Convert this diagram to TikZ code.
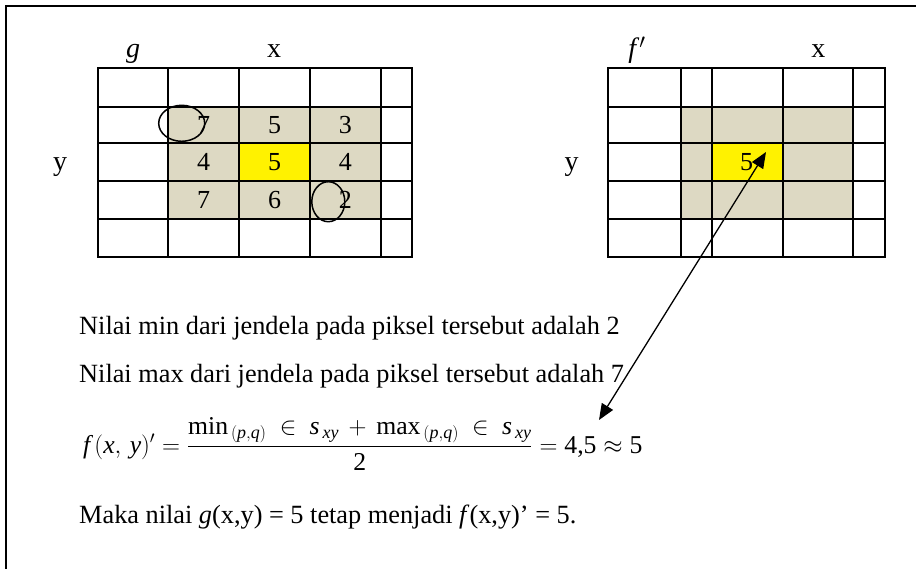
\documentclass[tikz,border=0pt]{standalone}
\usepackage{amsmath}
\usepackage{fontspec}
\setmainfont{Liberation Serif}
\usetikzlibrary{arrows.meta,shapes.geometric}
\definecolor{tanbg}{RGB}{221,217,195}
\begin{document}
\begin{tikzpicture}[x=1pt,y=-1pt,
  gridline/.style={line width=1.8pt, line cap=rect},
  num/.style={font=\fontsize{26}{30}\selectfont, inner sep=0pt},
  lab/.style={font=\fontsize{28}{32}\selectfont, inner sep=0pt, anchor=base},
  txt/.style={font=\fontsize{26.3}{30}\selectfont, inner sep=0pt, anchor=base west},
  ring/.style={draw, ellipse, line width=1.5pt, inner sep=0pt},
  dblarrow/.style={line width=1.3pt, {Triangle[length=16pt,width=13pt]}-{Triangle[length=16pt,width=13pt]}}]
\useasboundingbox (0,0) rectangle (916,569);
% frame
\draw[line width=2pt] (6,569) -- (6,6) -- (916,6);
% left grid g
\fill[tanbg] (168.3,106.7) rectangle (380.7,219);
\fill[yellow] (239,143.3) rectangle (310,181);
\foreach \x in {97.7,168.3,239,310,380.7,411.7} \draw[gridline] (\x,68.3) -- (\x,256.7);
\foreach \y in {68.3,106.7,143.3,181,219,256.7} \draw[gridline] (97.7,\y) -- (411.7,\y);
% right grid f'
\fill[tanbg] (681,106.7) rectangle (853.3,219);
\fill[yellow] (712.3,143.3) rectangle (783.3,181);
\foreach \x in {607.7,681,712.3,783.3,853.3,885} \draw[gridline] (\x,68.3) -- (\x,256.7);
\foreach \y in {68.3,106.7,143.3,181,219,256.7} \draw[gridline] (607.7,\y) -- (885,\y);
% numbers
\node[num] (a11) at (203.7,125) {7};
\node[num] (a12) at (274.5,125) {5};
\node[num] (a13) at (345.3,125) {3};
\node[num] (a21) at (203.7,162.2) {4};
\node[num] (a22) at (274.5,162.2) {5};
\node[num] (a23) at (345.3,162.2) {4};
\node[num] (a31) at (203.7,200) {7};
\node[num] (a32) at (274.5,200) {6};
\node[num] (a33) at (345.3,200) {2};
\node[num] (b22) at (746.5,162.2) {5};
% labels
\node[lab] (lg) at (133,58) {\textit{g}};
\node[lab] (lx1) at (274,58) {x};
\node[lab] (ly1) at (60,171) {y};
\node[lab] (lf) at (637,58) {\textit{f}$'$};
\node[lab] (lx2) at (818.3,58) {x};
\node[lab] (ly2) at (571.7,171) {y};
% circles
\node[ring, minimum width=46, minimum height=36] (c1) at (181.7,123.3) {};
\node[ring, minimum width=33, minimum height=40] (c2) at (328.3,201.7) {};
% texts
\node[txt] (t1) at (79,335) {Nilai min dari jendela pada piksel tersebut adalah 2};
\node[txt] (t2) at (79,382) {Nilai max dari jendela pada piksel tersebut adalah 7};
\node[txt, font=\fontsize{25.7}{30}\selectfont] (t3) at (83,453)
  {$\textit{f}\,(\textit{x},\,\textit{y})' = \dfrac{\text{min}_{\,(\textit{p},\textit{q})}\ \in\ \textit{s}_{\,\textit{xy}} \,+\, \text{max}_{\,(\textit{p},\textit{q})}\ \in\ \textit{s}_{\,\textit{xy}}}{\text{2}} = \text{4,5} \approx \text{5}$};
\node[txt] (t4) at (79,523) {Maka nilai \textit{g}(x,y) = 5 tetap menjadi \textit{f}(x,y)’ = 5.};
% arrow
\coordinate (ah) at (766,152);
\coordinate (at) at (599,420);
\draw[dblarrow] (at) -- (ah);
\end{tikzpicture}
\end{document}
